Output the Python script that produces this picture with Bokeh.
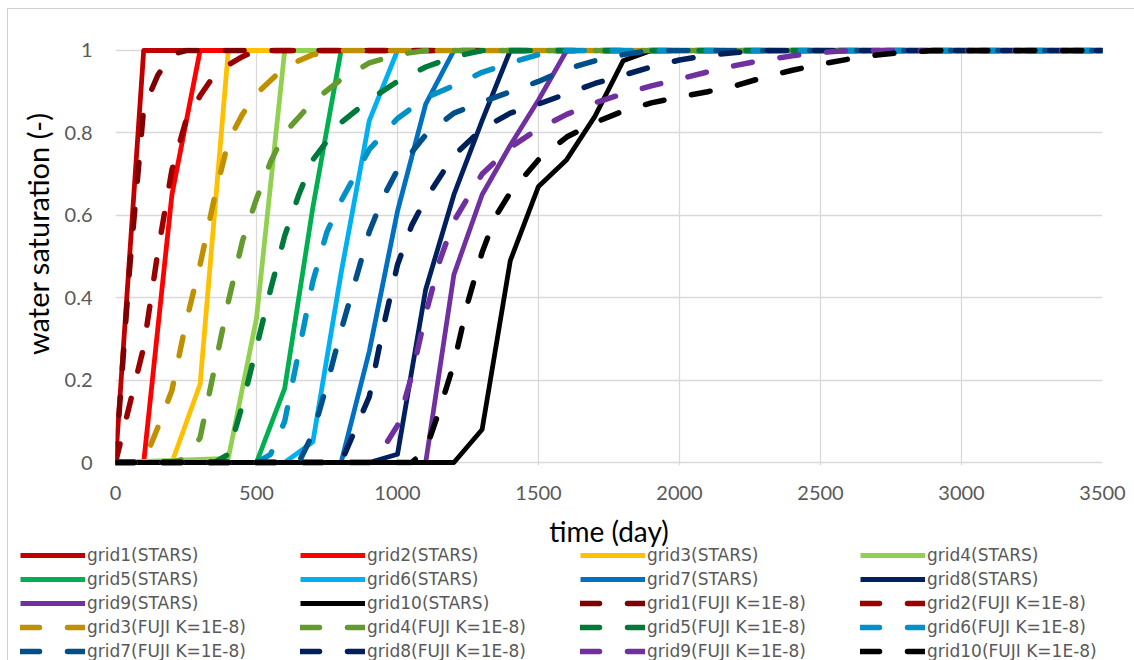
from bokeh.plotting import figure
from bokeh.layouts import column
from bokeh.models import Range1d, FixedTicker, Legend, LegendItem, Title
from bokeh.embed import file_html
from bokeh.resources import INLINE

# ---------------- data (time in days, water saturation in -) ----------------
grid1_stars_day = [0, 100, 3500]
grid1_stars_sw = [0, 1, 1]
grid2_stars_day = [0, 100, 200, 300, 3500]
grid2_stars_sw = [0, 0, 0.65, 1, 1]
grid3_stars_day = [0, 200, 300, 400, 3500]
grid3_stars_sw = [0, 0, 0.19, 1, 1]
grid4_stars_day = [0, 400, 500, 600, 3500]
grid4_stars_sw = [0, 0.01, 0.35, 1, 1]
grid5_stars_day = [0, 500, 600, 700, 800, 3500]
grid5_stars_sw = [0, 0, 0.18, 0.62, 1, 1]
grid6_stars_day = [0, 600, 700, 800, 900, 1000, 3500]
grid6_stars_sw = [0, 0, 0.05, 0.46, 0.83, 1, 1]
grid7_stars_day = [0, 800, 900, 1000, 1100, 1200, 3500]
grid7_stars_sw = [0, 0, 0.27, 0.61, 0.87, 1, 1]
grid8_stars_day = [0, 900, 1000, 1100, 1200, 1300, 1400, 3500]
grid8_stars_sw = [0, 0, 0.02, 0.42, 0.65, 0.83, 1, 1]
grid9_stars_day = [0, 1100, 1200, 1300, 1400, 1500, 1600, 3500]
grid9_stars_sw = [0, 0, 0.456, 0.65, 0.77, 0.88, 1, 1]
grid10_stars_day = [0, 1200, 1300, 1400, 1500, 1600, 1700, 1800, 1900, 3500]
grid10_stars_sw = [0, 0, 0.08, 0.49, 0.67, 0.735, 0.84, 0.975, 1, 1]

grid1_fuji_day = [0, 50, 100, 150, 200, 250, 3500]
grid1_fuji_sw = [0, 0.47, 0.86, 0.94, 0.99, 1, 1]
grid2_fuji_day = [0, 50, 100, 150, 200, 250, 300, 350, 400, 450, 500, 3500]
grid2_fuji_sw = [0, 0.14, 0.28, 0.51, 0.71, 0.83, 0.89, 0.94, 0.965, 0.985, 1, 1]
grid3_fuji_day = [0, 100, 150, 200, 250, 300, 350, 400, 450, 500, 600, 700, 800, 3500]
grid3_fuji_sw = [0, 0, 0.085, 0.175, 0.34, 0.48, 0.64, 0.78, 0.845, 0.895, 0.96, 0.99, 1, 1]
grid4_fuji_day = [0, 200, 250, 300, 350, 400, 450, 500, 550, 600, 700, 800, 900, 1000, 1100, 3500]
grid4_fuji_sw = [0, 0, 0.01, 0.06, 0.225, 0.39, 0.537, 0.64, 0.73, 0.8, 0.876, 0.93, 0.97, 0.99, 1, 1]
grid5_fuji_day = [0, 350, 400, 450, 500, 550, 600, 650, 700, 800, 900, 1000, 1100, 1200, 1300, 3500]
grid5_fuji_sw = [0, 0, 0.02, 0.14, 0.28, 0.42, 0.55, 0.65, 0.735, 0.825, 0.88, 0.925, 0.96, 0.985, 1, 1]
grid6_fuji_day = [0, 500, 550, 600, 650, 700, 750, 800, 900, 1000, 1100, 1200, 1300, 1400, 1500, 1600, 3500]
grid6_fuji_sw = [0, 0, 0.02, 0.1, 0.27, 0.44, 0.56, 0.635, 0.76, 0.835, 0.885, 0.915, 0.947, 0.97, 0.99, 1, 1]
grid7_fuji_day = [0, 650, 700, 750, 800, 850, 900, 950, 1000, 1100, 1200, 1300, 1400, 1500, 1600, 1700, 1800, 1900, 3500]
grid7_fuji_sw = [0, 0, 0.07, 0.19, 0.32, 0.44, 0.56, 0.645, 0.71, 0.795, 0.848, 0.875, 0.9, 0.925, 0.955, 0.975, 0.99, 1, 1]
grid8_fuji_day = [0, 800, 850, 900, 950, 1000, 1050, 1100, 1200, 1300, 1400, 1500, 1600, 1700, 1800, 1900, 2000, 2100, 2200, 2300, 3500]
grid8_fuji_sw = [0, 0, 0.08, 0.16, 0.33, 0.48, 0.575, 0.64, 0.745, 0.81, 0.848, 0.87, 0.895, 0.92, 0.94, 0.96, 0.977, 0.988, 0.995, 1, 1]
grid9_fuji_day = [0, 900, 950, 1000, 1050, 1100, 1150, 1200, 1300, 1400, 1500, 1600, 1700, 1800, 1900, 2000, 2100, 2200, 2300, 2400, 2500, 2600, 3500]
grid9_fuji_sw = [0, 0, 0.035, 0.09, 0.21, 0.36, 0.49, 0.586, 0.7, 0.765, 0.81, 0.845, 0.873, 0.895, 0.914, 0.931, 0.948, 0.964, 0.977, 0.987, 0.995, 1, 1]
grid10_fuji_day = [0, 1050, 1100, 1150, 1200, 1250, 1300, 1350, 1400, 1500, 1600, 1700, 1800, 1900, 2000, 2100, 2200, 2300, 2400, 2500, 2600, 2700, 2800, 2900, 3500]
grid10_fuji_sw = [0, 0, 0.03, 0.13, 0.24, 0.39, 0.51, 0.6, 0.655, 0.735, 0.79, 0.825, 0.853, 0.873, 0.887, 0.9, 0.915, 0.935, 0.952, 0.967, 0.979, 0.989, 0.996, 1, 1]

series_labels = [
    "grid1(STARS)", "grid2(STARS)", "grid3(STARS)", "grid4(STARS)", "grid5(STARS)",
    "grid6(STARS)", "grid7(STARS)", "grid8(STARS)", "grid9(STARS)", "grid10(STARS)",
    "grid1(FUJI K=1E-8)", "grid2(FUJI K=1E-8)", "grid3(FUJI K=1E-8)", "grid4(FUJI K=1E-8)",
    "grid5(FUJI K=1E-8)", "grid6(FUJI K=1E-8)", "grid7(FUJI K=1E-8)", "grid8(FUJI K=1E-8)",
    "grid9(FUJI K=1E-8)", "grid10(FUJI K=1E-8)",
]
series_days = [
    grid1_stars_day, grid2_stars_day, grid3_stars_day, grid4_stars_day, grid5_stars_day,
    grid6_stars_day, grid7_stars_day, grid8_stars_day, grid9_stars_day, grid10_stars_day,
    grid1_fuji_day, grid2_fuji_day, grid3_fuji_day, grid4_fuji_day, grid5_fuji_day,
    grid6_fuji_day, grid7_fuji_day, grid8_fuji_day, grid9_fuji_day, grid10_fuji_day,
]
series_sw = [
    grid1_stars_sw, grid2_stars_sw, grid3_stars_sw, grid4_stars_sw, grid5_stars_sw,
    grid6_stars_sw, grid7_stars_sw, grid8_stars_sw, grid9_stars_sw, grid10_stars_sw,
    grid1_fuji_sw, grid2_fuji_sw, grid3_fuji_sw, grid4_fuji_sw, grid5_fuji_sw,
    grid6_fuji_sw, grid7_fuji_sw, grid8_fuji_sw, grid9_fuji_sw, grid10_fuji_sw,
]

x_ticks = [0, 500, 1000, 1500, 2000, 2500, 3000, 3500]
y_ticks = [0, 0.2, 0.4, 0.6, 0.8, 1]
y_tick_labels = ["0", "0.2", "0.4", "0.6", "0.8", "1"]

# ---------------- styles ----------------
colors = [
    "#C00000", "#FF0000", "#FFC000", "#92D050", "#00B050",
    "#00B0F0", "#0070C0", "#002060", "#7030A0", "#000000",
    "#7F0000", "#9A0000", "#BF9000", "#659A2E", "#007A3A",
    "#0092C6", "#004F88", "#00205C", "#7030A0", "#000000",
]


def line_style(i):
    if i < 10:
        return dict(line_color=colors[i], line_width=4.8, line_join="round")
    return dict(line_color=colors[i], line_width=5.5, line_dash="19 28",
                line_cap="round", line_join="round")


# ---------------- main chart ----------------
p = figure(width=1126, height=546, output_backend="svg", toolbar_location=None,
           x_range=Range1d(0, 3500), y_range=Range1d(-0.00728, 1.00728),
           min_border_left=107, min_border_right=32, min_border_top=38, min_border_bottom=90)
p.frame_align = False
p.background_fill_color = "white"
p.border_fill_color = "white"
p.outline_line_color = None

p.xaxis.ticker = FixedTicker(ticks=x_ticks)
p.yaxis.ticker = FixedTicker(ticks=y_ticks)
p.yaxis.major_label_overrides = dict(zip(y_ticks, y_tick_labels))
for ax in (p.xaxis[0], p.yaxis[0]):
    ax.axis_line_color = None
    ax.major_tick_line_color = None
    ax.minor_tick_line_color = None
    ax.major_tick_out = 0
    ax.major_tick_in = 0
    ax.minor_tick_out = 0
    ax.minor_tick_in = 0
    ax.major_label_text_font = "Lato"
    ax.major_label_text_font_size = "20px"
    ax.major_label_text_color = "#595959"
    ax.axis_label_text_font = "Lato"
    ax.axis_label_text_font_size = "28px"
    ax.axis_label_text_font_style = "normal"
    ax.axis_label_text_color = "#000000"
p.xaxis.major_label_standoff = 20
p.yaxis.major_label_standoff = 23
p.xaxis.axis_label = "time (day)"
p.xaxis.axis_label_standoff = 11

ytitle = Title(text="water saturation (-)", align="right", offset=65, standoff=14,
               text_font="Lato", text_font_size="29px", text_font_style="normal",
               text_color="#000000")
p.add_layout(ytitle, "left")

p.xgrid.ticker = FixedTicker(ticks=x_ticks)
p.ygrid.ticker = FixedTicker(ticks=y_ticks)
p.grid.grid_line_color = "#D9D9D9"
p.grid.grid_line_width = 1.3

for i, (d, s) in enumerate(zip(series_days, series_sw)):
    p.line(d, s, **line_style(i))

# ---------------- legend strip below the chart ----------------
# the same series are drawn here outside the visible range; only their legend shows
q = figure(width=1114, height=116, output_backend="svg", toolbar_location=None,
           x_axis_type=None, y_axis_type=None,
           x_range=Range1d(-20, -10), y_range=Range1d(0, 1),
           min_border_left=0, min_border_right=0, min_border_top=0, min_border_bottom=0)
q.frame_align = False
q.margin = (-10, 0, 0, 12)
q.outline_line_color = None
q.background_fill_alpha = 0
q.border_fill_alpha = 0
q.grid.visible = False

items = []
for i, (lab, d, s) in enumerate(zip(series_labels, series_days, series_sw)):
    r = q.line(d, s, **line_style(i))
    items.append(LegendItem(label=lab, renderers=[r]))

legend = Legend(items=items, location="top_left", orientation="horizontal", ncols=4,
                glyph_width=65, glyph_height=18, label_standoff=2, label_width=209,
                label_height=18, spacing=4, padding=0, margin=0,
                border_line_color=None, background_fill_alpha=0,
                label_text_font="DejaVu Sans", label_text_font_size="17px",
                label_text_color="#595959")
q.add_layout(legend)

layout = column(p, q, spacing=0)
layout.margin = (9, 0, 0, 8)
layout.styles = {"outline": "1px solid #D0D0D0"}

open("out.html", "w").write(file_html(layout, INLINE))
